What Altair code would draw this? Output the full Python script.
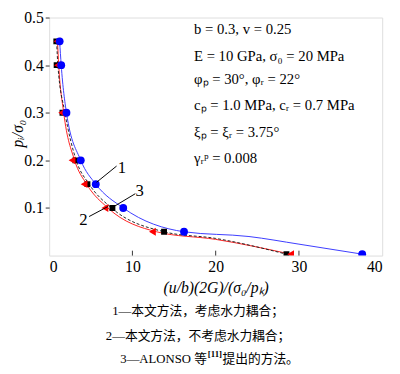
import altair as alt
import pandas as pd

# ---------------- data ----------------
y_levels = [0.45, 0.40, 0.30, 0.20, 0.15, 0.10, 0.05, 0.003]
blue_x = [1.26, 1.45, 2.08, 3.8, 5.6, 8.9, 16.2, 37.6]      # 1: coupled
red_x = [0.95, 1.0, 1.5, 2.75, 4.2, 6.7, 12.4, 29.0]        # 2: not coupled
black_x = [0.86, 0.9, 1.6, 3.15, 4.6, 7.6, 13.8, 28.5]      # 3: ALONSO

blue_curve_x = [1.26, 1.45, 2.08, 3.8, 5.6, 8.9, 16.2, 24.0, 30.0, 37.6]
blue_curve_y = [0.45, 0.40, 0.30, 0.20, 0.15, 0.10, 0.05, 0.040, 0.024, 0.003]
red_curve_x = [1.0, 1.15, 1.75, 3.06, 4.5, 7.06, 12.9, 20.0, 29.0]
red_curve_y = [0.45, 0.40, 0.30, 0.20, 0.15, 0.10, 0.05, 0.034, 0.003]
black_curve_x = [0.9, 1.05, 1.9, 3.25, 4.8, 7.5, 13.8, 20.0, 28.5]
black_curve_y = [0.45, 0.40, 0.30, 0.20, 0.15, 0.10, 0.05, 0.036, 0.003]

x_ticks = [0, 10, 20, 30, 40]
x_inner_ticks = [10, 20, 30]
y_ticks = [0.1, 0.2, 0.3, 0.4, 0.5]

label_text = ["1", "2", "3"]
label_x = [8.75, 4.1, 10.86]
label_y = [0.183, 0.075, 0.135]
leader_x = [5.7, 4.8, 7.5]
leader_y = [0.154, 0.082, 0.10]
leader_x2 = [8.1, 7.06, 10.35]
leader_y2 = [0.188, 0.103, 0.13]

params = [
    "b = 0.3, v = 0.25",
    "E = 10 GPa, σ₀ = 20 MPa",
    "φₚ = 30°, φᵣ = 22°",
    "cₚ = 1.0 MPa, cᵣ = 0.7 MPa",
    "ξₚ = ξᵣ = 3.75°",
    "γᵣᵖ = 0.008",
]
params_x = 17.4
params_y = [0.476, 0.420, 0.370, 0.316, 0.260, 0.205]

captions = ["1—本文方法，考虑水力耦合；", "2—本文方法，不考虑水力耦合；"]

W, H = 340, 243
TOP = 6
SERIF = "Liberation Serif"
CAP_FONT = "Liberation Serif, Noto Sans CJK SC"

xs = alt.Scale(domain=[0, 40], nice=False)
ys = alt.Scale(domain=[0, 0.5], nice=False)
xax = alt.Axis(values=x_ticks, ticks=False, domain=False, grid=False, labelPadding=3,
               labelFontSize=16, labelFont=SERIF, labelColor="black",
               title="(u/b)(2G)/(σ₀/pₖ)", titleFont=SERIF, titleFontSize=16,
               titleFontStyle="italic", titleFontWeight="normal", titleColor="black",
               titleY=33, titleBaseline="middle")
yax = alt.Axis(values=y_ticks, ticks=True, tickSize=4, tickColor="#333", domain=False,
               grid=False, labelPadding=2, labelFontSize=16, labelFont=SERIF,
               labelColor="black", format=".1f",
               title="pᵢ/σ₀", titleFont=SERIF, titleFontSize=16, titleFontStyle="italic",
               titleFontWeight="normal", titleColor="black", titleX=-32, titleY=118,
               titleAngle=-90, titleBaseline="middle", titleAlign="center")

def X(field):
    return alt.X(field, type="quantitative", scale=xs, axis=xax)

def Y(field):
    return alt.Y(field, type="quantitative", scale=ys, axis=yax)

def curve(xv, yv, color, dash=None):
    df = pd.DataFrame({"x": xv, "y": yv, "o": list(range(len(xv)))})
    kw = dict(color=color, strokeWidth=1, interpolate="monotone", clip=True)
    if dash:
        kw["strokeDash"] = dash
    return alt.Chart(df).mark_line(**kw).encode(x=X("x"), y=Y("y"), order="o:Q")

def pts(xv, shape, color, size):
    df = pd.DataFrame({"x": xv, "y": y_levels})
    return alt.Chart(df).mark_point(shape=shape, filled=True, color=color, size=size,
                                    opacity=1, clip=True).encode(x=X("x"), y=Y("y"))

layers = [
    curve(red_curve_x, red_curve_y, "#ff2020"),
    curve(blue_curve_x, blue_curve_y, "#3a3aff"),
    curve(black_curve_x, black_curve_y, "#222222", dash=[3, 2]),
    pts(black_x, "square", "black", 36),
    pts(red_x, "triangle-left", "#ff0000", 64),
    pts(blue_x, "circle", "#0000ff", 64),
]

# inner x ticks
tick_df = pd.DataFrame({"x": x_inner_ticks})
layers.append(alt.Chart(tick_df).mark_rule(color="#333", strokeWidth=1).encode(
    x=X("x"), y=alt.value(H), y2=alt.value(H - 5)))

# leader lines and labels
lead_df = pd.DataFrame({"x": leader_x, "y": leader_y, "x2": leader_x2, "y2": leader_y2})
layers.append(alt.Chart(lead_df).mark_rule(color="black", strokeWidth=1).encode(
    x=X("x"), y=Y("y"), x2="x2", y2="y2"))
lab_df = pd.DataFrame({"t": label_text, "x": label_x, "y": label_y})
layers.append(alt.Chart(lab_df).mark_text(font=SERIF, fontSize=17, color="black",
                                          align="center", baseline="middle").encode(
    x=X("x"), y=Y("y"), text="t:N"))

# parameter block
par_df = pd.DataFrame({"t": params, "x": [params_x] * len(params), "y": params_y})
layers.append(alt.Chart(par_df).mark_text(font=SERIF, fontSize=15, color="black",
                                          align="left", baseline="middle").encode(
    x=X("x"), y=Y("y"), text="t:N"))

# captions below the chart (positions relative to the plot's top-left corner)
cap_pos = [(152, 306 - TOP), (152, 331 - TOP)]
for txt, (cx, cy) in zip(captions, cap_pos):
    layers.append(alt.Chart(pd.DataFrame({"t": [txt]})).mark_text(
        font=CAP_FONT, fontSize=13, color="black", align="center", baseline="middle").encode(
        text="t:N", x=alt.value(cx), y=alt.value(cy)))
cap3 = [("3—ALONSO 等", 161, 355 - TOP, "right", 13), ("[11]", 162, 350 - TOP, "left", 9),
        ("提出的方法。", 177, 355 - TOP, "left", 13)]
for txt, cx, cy, al, fs in cap3:
    layers.append(alt.Chart(pd.DataFrame({"t": [txt]})).mark_text(
        font=CAP_FONT, fontSize=fs, color="black", align=al, baseline="middle",
        fontWeight="bold" if txt == "[11]" else "normal").encode(
        text="t:N", x=alt.value(cx), y=alt.value(cy)))

chart = alt.layer(*layers).properties(
    width=W, height=H,
    autosize=alt.AutoSizeParams(type="none"),
    padding={"left": 42, "top": TOP, "right": 10, "bottom": 109},
).configure_view(stroke="#333", strokeWidth=1).configure(background="white")

chart.save("out.html", embed_options={"renderer": "svg", "actions": False})
